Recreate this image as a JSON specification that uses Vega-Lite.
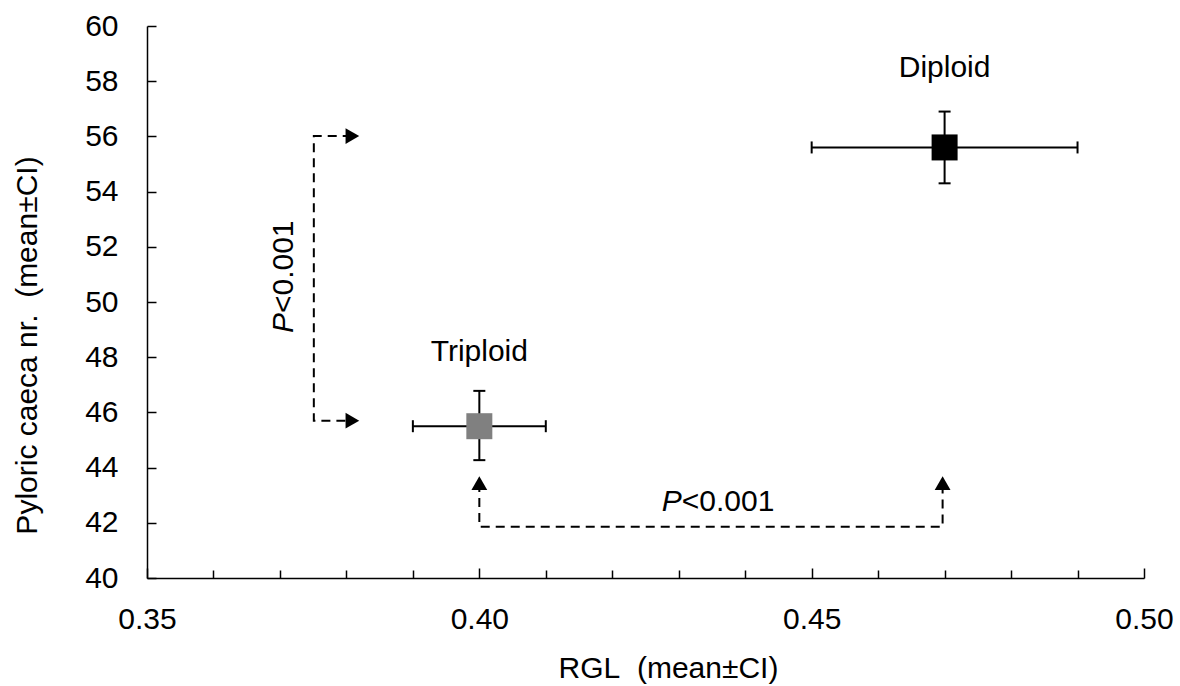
{
  "$schema": "https://vega.github.io/schema/vega-lite/v6.json",
  "width": 997,
  "height": 552,
  "autosize": {"type": "none"},
  "padding": {"left": 147, "top": 26, "right": 36, "bottom": 108},
  "background": "white",
  "config": {
    "view": {"stroke": null},
    "font": "Liberation Sans",
    "axis": {"grid": false, "domainColor": "black", "domainWidth": 1.5, "tickColor": "black", "tickWidth": 1.5, "labelColor": "black", "titleColor": "black", "labelFont": "Liberation Sans", "titleFont": "Liberation Sans", "labelFontSize": 30, "titleFontSize": 30, "titleFontWeight": "normal"}
  },
  "datasets": {
    "groups": [
      {"group": "Diploid", "x": 0.47, "y": 55.6, "xlo": 0.45, "xhi": 0.49, "ylo": 54.3, "yhi": 56.9},
      {"group": "Triploid", "x": 0.40, "y": 45.5, "xlo": 0.39, "xhi": 0.41, "ylo": 44.27, "yhi": 46.78}
    ],
    "labels": [
      {"label": "Diploid", "x": 0.47, "y": 58.15},
      {"label": "Triploid", "x": 0.40, "y": 47.87}
    ],
    "brackets": [
      {"seg": "a", "o": 1, "x": 0.3808, "y": 56.01},
      {"seg": "a", "o": 2, "x": 0.3751, "y": 56.01},
      {"seg": "a", "o": 3, "x": 0.3751, "y": 45.70},
      {"seg": "a", "o": 4, "x": 0.3808, "y": 45.70},
      {"seg": "b", "o": 1, "x": 0.40, "y": 43.44},
      {"seg": "b", "o": 2, "x": 0.40, "y": 41.86},
      {"seg": "b", "o": 3, "x": 0.4697, "y": 41.86},
      {"seg": "b", "o": 4, "x": 0.4697, "y": 43.44}
    ],
    "arrows": [
      {"dir": "right", "x": 0.3809, "y": 56.01},
      {"dir": "right", "x": 0.3809, "y": 45.70},
      {"dir": "up", "x": 0.40, "y": 43.44},
      {"dir": "up", "x": 0.4697, "y": 43.44}
    ],
    "pvals": [
      {"pos": "h", "x": 0.43045, "y": 42.44},
      {"pos": "v", "x": 0.3719, "y": 49.60}
    ]
  },
  "layer": [
    {
      "data": {"name": "brackets"},
      "mark": {"type": "line", "color": "black", "strokeWidth": 2, "strokeDash": [9, 6]},
      "encoding": {
        "x": {"field": "x", "type": "quantitative", "scale": {"domain": [0.35, 0.5], "nice": false, "zero": false},
          "axis": {"title": "RGL\u00a0 (mean±CI)", "values": [0.35,0.36,0.37,0.38,0.39,0.4,0.41,0.42,0.43,0.44,0.45,0.46,0.47,0.48,0.49,0.5],
            "labelExpr": "indexof([0.35,0.4,0.45,0.5], datum.value) >= 0 ? format(datum.value, '.2f') : ''",
            "tickSize": {"condition": {"test": "indexof([0.35,0.4,0.45,0.5], datum.value) >= 0", "value": -10}, "value": -8},
            "labelPadding": 36, "labelFlush": false, "labelOverlap": false,
            "titleX": 521, "titleY": 99, "titleBaseline": "alphabetic"}},
        "y": {"field": "y", "type": "quantitative", "scale": {"domain": [40, 60], "nice": false, "zero": false},
          "axis": {"title": "Pyloric caeca nr.\u00a0 (mean±CI)", "values": [40,41,42,43,44,45,46,47,48,49,50,51,52,53,54,55,56,57,58,59,60],
            "labelExpr": "datum.value % 2 == 0 ? datum.label : ''",
            "tickSize": {"condition": {"test": "datum.value % 2 == 0", "value": -9}, "value": -7},
            "labelPadding": 38, "labelFlush": false, "labelOverlap": false,
            "titleX": -111, "titleY": 319, "titleBaseline": "alphabetic"}},
        "detail": {"field": "seg"},
        "order": {"field": "o", "type": "quantitative"}
      }
    },
    {
      "data": {"name": "arrows"},
      "transform": [{"filter": "datum.dir == 'right'"}],
      "mark": {"type": "point", "shape": "triangle-right", "filled": true, "color": "black", "size": 250, "opacity": 1},
      "encoding": {"x": {"field": "x", "type": "quantitative", "title": "RGL\u00a0 (mean±CI)"}, "y": {"field": "y", "type": "quantitative", "title": "Pyloric caeca nr.\u00a0 (mean±CI)"}}
    },
    {
      "data": {"name": "arrows"},
      "transform": [{"filter": "datum.dir == 'up'"}],
      "mark": {"type": "point", "shape": "triangle-up", "filled": true, "color": "black", "size": 250, "opacity": 1},
      "encoding": {"x": {"field": "x", "type": "quantitative", "title": "RGL\u00a0 (mean±CI)"}, "y": {"field": "y", "type": "quantitative", "title": "Pyloric caeca nr.\u00a0 (mean±CI)"}}
    },
    {
      "data": {"name": "groups"},
      "mark": {"type": "rule", "color": "black", "strokeWidth": 2},
      "encoding": {"x": {"field": "x", "type": "quantitative", "title": "RGL\u00a0 (mean±CI)"}, "y": {"field": "ylo", "type": "quantitative", "title": "Pyloric caeca nr.\u00a0 (mean±CI)"}, "y2": {"field": "yhi"}}
    },
    {
      "data": {"name": "groups"},
      "mark": {"type": "rule", "color": "black", "strokeWidth": 2},
      "encoding": {"y": {"field": "y", "type": "quantitative", "title": "Pyloric caeca nr.\u00a0 (mean±CI)"}, "x": {"field": "xlo", "type": "quantitative", "title": "RGL\u00a0 (mean±CI)"}, "x2": {"field": "xhi"}}
    },
    {
      "data": {"name": "groups"},
      "transform": [{"fold": ["ylo", "yhi"], "as": ["end", "v"]}],
      "mark": {"type": "tick", "orient": "horizontal", "size": 12, "thickness": 2, "color": "black", "opacity": 1},
      "encoding": {"x": {"field": "x", "type": "quantitative", "title": "RGL\u00a0 (mean±CI)"}, "y": {"field": "v", "type": "quantitative", "title": "Pyloric caeca nr.\u00a0 (mean±CI)"}}
    },
    {
      "data": {"name": "groups"},
      "transform": [{"fold": ["xlo", "xhi"], "as": ["end", "v"]}],
      "mark": {"type": "tick", "orient": "vertical", "size": 12, "thickness": 2, "color": "black", "opacity": 1},
      "encoding": {"x": {"field": "v", "type": "quantitative", "title": "RGL\u00a0 (mean±CI)"}, "y": {"field": "y", "type": "quantitative", "title": "Pyloric caeca nr.\u00a0 (mean±CI)"}}
    },
    {
      "data": {"name": "groups"},
      "mark": {"type": "point", "shape": "square", "filled": true, "size": 676, "opacity": 1},
      "encoding": {
        "x": {"field": "x", "type": "quantitative", "title": "RGL\u00a0 (mean±CI)"},
        "y": {"field": "y", "type": "quantitative", "title": "Pyloric caeca nr.\u00a0 (mean±CI)"},
        "color": {"field": "group", "type": "nominal", "scale": {"domain": ["Diploid", "Triploid"], "range": ["#000000", "#808080"]}, "legend": null}
      }
    },
    {
      "data": {"name": "labels"},
      "mark": {"type": "text", "fontSize": 30, "baseline": "alphabetic", "align": "center", "color": "black"},
      "encoding": {"x": {"field": "x", "type": "quantitative", "title": "RGL\u00a0 (mean±CI)"}, "y": {"field": "y", "type": "quantitative", "title": "Pyloric caeca nr.\u00a0 (mean±CI)"}, "text": {"field": "label"}}
    },
    {
      "data": {"name": "pvals"},
      "transform": [{"filter": "datum.pos == 'h'"}],
      "layer": [
        {"mark": {"type": "text", "text": "P", "fontStyle": "italic", "fontSize": 30, "align": "right", "baseline": "alphabetic", "color": "black"},
         "encoding": {"x": {"field": "x", "type": "quantitative", "title": "RGL\u00a0 (mean±CI)"}, "y": {"field": "y", "type": "quantitative", "title": "Pyloric caeca nr.\u00a0 (mean±CI)"}}},
        {"mark": {"type": "text", "text": "<0.001", "fontSize": 30, "align": "left", "baseline": "alphabetic", "color": "black"},
         "encoding": {"x": {"field": "x", "type": "quantitative", "title": "RGL\u00a0 (mean±CI)"}, "y": {"field": "y", "type": "quantitative", "title": "Pyloric caeca nr.\u00a0 (mean±CI)"}}}
      ]
    },
    {
      "data": {"name": "pvals"},
      "transform": [{"filter": "datum.pos == 'v'"}],
      "layer": [
        {"mark": {"type": "text", "text": "P", "fontStyle": "italic", "fontSize": 30, "align": "right", "baseline": "alphabetic", "angle": 270, "color": "black"},
         "encoding": {"x": {"field": "x", "type": "quantitative", "title": "RGL\u00a0 (mean±CI)"}, "y": {"field": "y", "type": "quantitative", "title": "Pyloric caeca nr.\u00a0 (mean±CI)"}}},
        {"mark": {"type": "text", "text": "<0.001", "fontSize": 30, "align": "left", "baseline": "alphabetic", "angle": 270, "color": "black"},
         "encoding": {"x": {"field": "x", "type": "quantitative", "title": "RGL\u00a0 (mean±CI)"}, "y": {"field": "y", "type": "quantitative", "title": "Pyloric caeca nr.\u00a0 (mean±CI)"}}}
      ]
    }
  ]
}
